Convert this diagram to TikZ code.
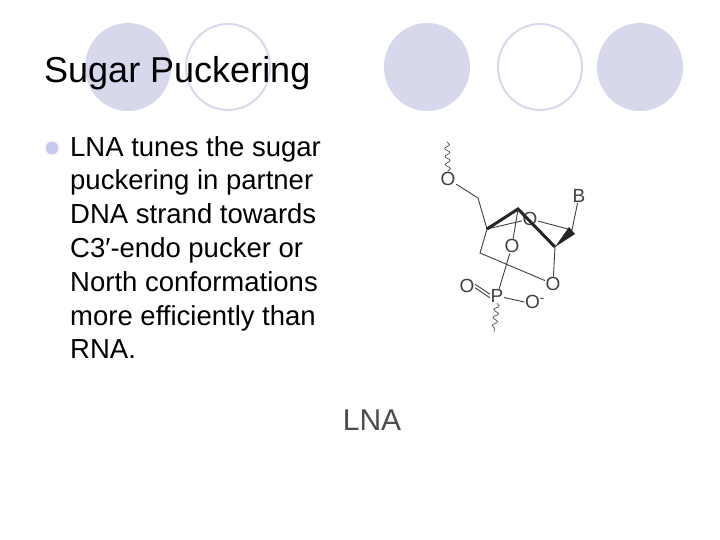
\documentclass[tikz,border=0pt]{standalone}
\usepackage{fontspec}
\setmainfont{Liberation Sans}
\usetikzlibrary{decorations.pathmorphing}
\definecolor{lav}{RGB}{216,216,236}
\definecolor{lavb}{RGB}{200,200,240}
\begin{document}
\begin{tikzpicture}[x=1pt,y=-1pt,
 circf/.style={fill=lav,draw=none},
 circo/.style={draw=lav,line width=2pt,fill=white},
 atom/.style={inner sep=0.5pt,font=\fontsize{19}{19}\selectfont,text=black!75},
 bond/.style={line width=0.9pt,black!75},
 wedge/.style={line width=3pt,black!85},
 wav/.style={black!70,line width=0.7pt,decorate,decoration={snake,amplitude=2.5pt,segment length=8pt}}]
\useasboundingbox (0,0) rectangle (720,540);
\fill[white] (0,0) rectangle (720,540);
\fill[circf] (128,67) ellipse (43 and 44);
\draw[circo] (228,67) ellipse (42 and 43);
\fill[circf] (427,67) ellipse (43 and 44);
\draw[circo] (540,67) ellipse (42 and 43);
\fill[circf] (640,67) ellipse (43 and 44);
\node[anchor=base west,font=\fontsize{36}{36}\selectfont,inner sep=0] (title) at (44,83) {Sugar Puckering};
\fill[lavb] (52,148) circle (6.5) coordinate (bul);
\node[anchor=north west,align=left,font=\fontsize{27.5}{33.8}\selectfont,inner sep=0] (txt) at (70,136)
 {LNA tunes the sugar\\puckering in partner\\DNA strand towards\\C3′-endo pucker or\\North conformations\\more efficiently than\\RNA.};
% molecule
\node[atom] (O5) at (448,179) {O};
\coordinate (w1) at (447,142);
\coordinate (C5) at (478,198);
\coordinate (C4) at (487,229);
\coordinate (C3) at (518,209);
\node[atom] (O4) at (530,219) {O};
\coordinate (C1) at (572,230);
\node[atom] (B) at (579,196) {B};
\coordinate (C2) at (555,247);
\node[atom] (O3) at (512,246) {O};
\coordinate (CB) at (480,253);
\node[atom] (O2) at (553,284) {O};
\node[atom] (P) at (497,296) {P};
\node[atom] (Od) at (467,286) {O};
\node[atom] (Om) at (535,302) {O\textsuperscript{-}};
\coordinate (w2) at (494,332);
\draw[wav] (w1) -- (O5.north);
\draw[bond] (O5) -- (C5) -- (C4);
\draw[bond] (C4) -- (O4);
\draw[bond] (O4) -- (C1);
\draw[bond] (C1) -- (B);
\draw[wedge,line join=miter] (C4) -- (C3) -- (C2);
\fill[black!85] (C2) -- (569,227) -- (575,234) -- cycle;
\draw[bond] (C3) -- (O3);
\draw[bond] (C4) -- (CB) -- (O2);
\draw[bond] (C2) -- (O2);
\draw[bond] (O3) -- (P);
\draw[bond] (P) -- (Om.west);
\draw[bond] ([yshift=-1.8pt]P.west) -- ([yshift=-1.8pt]Od.east);
\draw[bond] ([yshift=1.8pt]P.west) -- ([yshift=1.8pt]Od.east);
\draw[wav] (P.south) -- (w2);
\node[anchor=base,font=\fontsize{30}{30}\selectfont,text=black!70] (lna) at (372,430) {LNA};
\end{tikzpicture}
\end{document}
